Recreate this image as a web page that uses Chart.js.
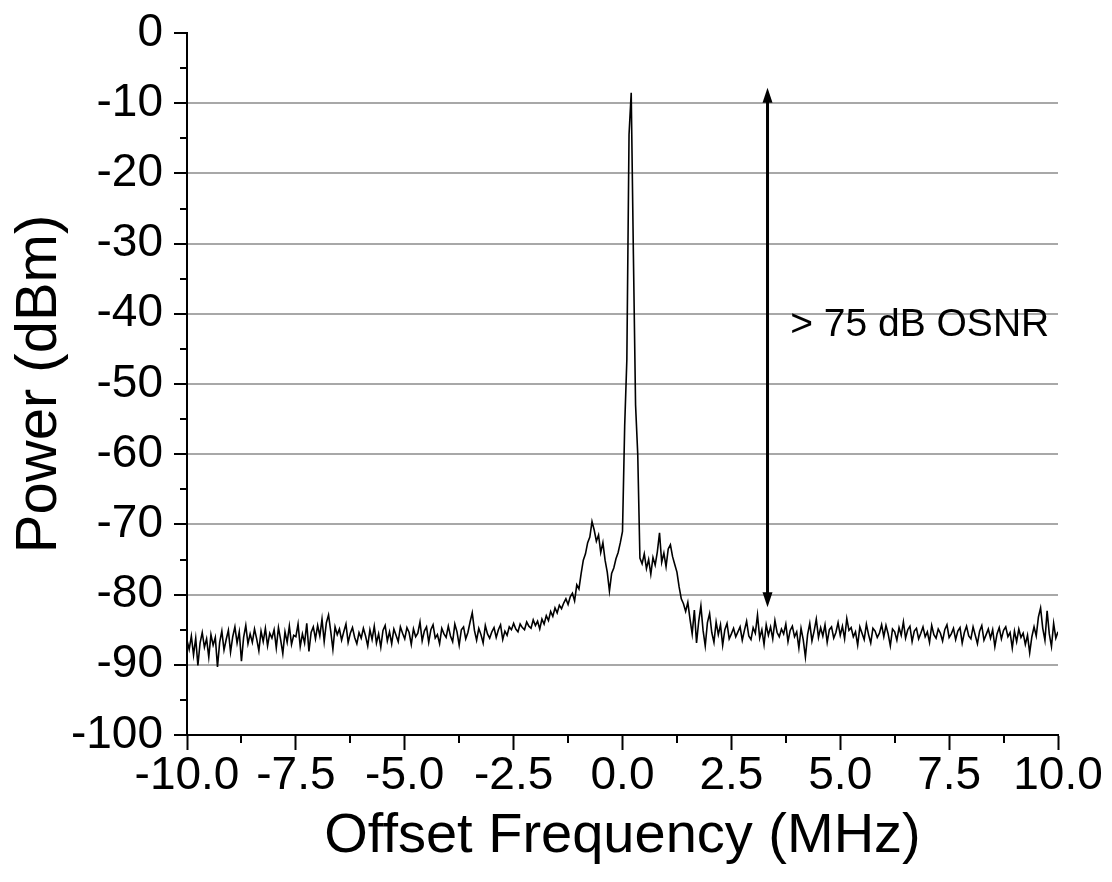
<!DOCTYPE html>
<html>
<head>
<meta charset="utf-8">
<script src="https://cdn.jsdelivr.net/npm/chart.js@4"></script>
<style>
  html, body { margin: 0; padding: 0; background: #ffffff; }
  #wrap { width: 1112px; height: 882px; }
</style>
</head>
<body>
<div id="wrap"><canvas id="c" width="1112" height="882"></canvas></div>
<script>
// ---- data ----
const freqStart = -10;      // MHz, first sample
const freqStep = 0.05;      // MHz between samples
const power = [
  // -10 .. -9.05
  -86.5,-87.8,-85.9,-88.6,-86.2,-90.1,-86.9,-85.4,-87.5,-86.3,-88.9,-85.7,-87.2,-86.1,-90.3,-86.8,-85.2,-87.9,-86.4,-85.1,
  // -9 .. -8.05
  -88.2,-86.0,-84.6,-86.9,-85.3,-89.5,-86.1,-84.4,-87.0,-85.6,-86.8,-84.9,-86.3,-88.0,-85.2,-86.7,-84.8,-87.3,-85.5,-86.2,
  // -8 .. -7.05
  -85.0,-87.6,-84.7,-86.4,-88.4,-85.3,-86.8,-84.5,-87.1,-85.8,-86.0,-84.2,-87.4,-85.6,-86.9,-84.1,-88.1,-85.4,-84.6,-86.3,
  // -7 .. -6.05
  -84.4,-85.9,-83.5,-86.7,-84.0,-82.9,-85.2,-87.8,-84.6,-85.7,-84.9,-86.5,-85.3,-84.2,-86.8,-85.5,-84.7,-86.1,-87.0,-85.4,
  // -6 .. -5.05
  -86.2,-84.8,-85.9,-87.3,-85.0,-86.4,-84.5,-86.9,-85.6,-87.5,-85.1,-84.4,-86.6,-85.3,-87.0,-84.9,-85.8,-86.7,-84.6,-85.5,
  // -5 .. -4.05
  -86.3,-84.7,-85.4,-87.1,-84.9,-86.0,-85.5,-83.9,-86.6,-85.2,-84.6,-86.8,-85.0,-84.3,-86.2,-85.7,-87.0,-84.8,-85.6,-86.1,
  // -4 .. -3.05
  -84.5,-85.9,-86.7,-84.2,-85.3,-87.2,-85.0,-84.6,-86.3,-85.4,-83.9,-82.6,-85.1,-86.5,-84.8,-85.7,-86.9,-84.4,-85.6,-86.2,
  // -3 .. -2.05
  -85.3,-84.7,-86.1,-85.0,-84.3,-86.4,-85.2,-85.8,-84.6,-85.0,-84.1,-84.9,-85.3,-84.2,-84.7,-85.0,-83.9,-84.5,-84.8,-83.6,
  // -2 .. -1.05
  -84.4,-83.8,-84.9,-83.5,-84.2,-83.0,-83.7,-82.4,-83.1,-81.9,-82.6,-81.5,-82.0,-81.2,-80.6,-81.4,-80.3,-79.8,-80.9,-78.6,
  // -1 .. -0.05
  -79.2,-77.0,-75.1,-74.2,-72.6,-71.8,-69.6,-70.8,-72.4,-71.5,-74.0,-72.6,-75.1,-76.8,-79.5,-77.0,-76.2,-74.9,-74.0,-72.6,
  // 0 .. 0.4 (carrier)
  -71.0,-56.0,-46.5,-14.5,-8.5,-31.5,-53.0,-60.0,-74.8,
  // 0.45 .. 1.2
  -75.6,-74.2,-76.3,-75.0,-77.1,-74.7,-75.8,-73.9,-71.2,-75.4,-74.1,-76.0,-73.5,-72.9,-74.6,-75.7,
  // 1.25 .. 2.0
  -76.8,-78.9,-80.6,-81.3,-82.4,-81.1,-83.5,-85.6,-82.2,-86.9,-83.8,-81.6,-85.1,-87.3,-84.0,-82.7,
  // 2.05 .. 2.95
  -85.4,-86.8,-83.9,-85.7,-84.3,-87.2,-85.0,-84.1,-86.3,-85.6,-84.8,-86.0,-85.3,-84.6,-86.5,-85.1,-83.8,-85.9,-86.4,
  // 3 .. 3.95
  -84.7,-85.5,-82.9,-86.2,-85.0,-87.1,-84.3,-85.8,-84.6,-86.3,-83.7,-85.4,-86.0,-84.9,-85.6,-84.2,-86.7,-85.1,-84.5,-86.0,
  // 4 .. 4.95
  -85.3,-87.6,-84.8,-86.4,-88.9,-85.7,-84.1,-86.6,-85.2,-83.5,-86.1,-84.7,-85.9,-84.3,-86.8,-85.0,-84.6,-86.2,-85.4,-84.0,
  // 5 .. 5.95
  -85.8,-84.5,-86.3,-83.4,-85.1,-84.7,-86.0,-85.3,-87.2,-84.6,-85.5,-86.4,-84.2,-85.7,-86.9,-84.8,-85.2,-86.1,-85.5,-84.3,
  // 6 .. 6.95
  -86.0,-84.4,-85.6,-87.3,-84.9,-85.3,-86.5,-84.7,-85.8,-83.9,-86.2,-85.0,-84.5,-86.7,-85.2,-84.8,-86.3,-85.5,-84.6,-86.0,
  // 7 .. 7.95
  -85.3,-86.8,-84.4,-85.7,-86.2,-84.9,-85.5,-86.6,-85.0,-84.3,-86.1,-85.6,-84.8,-86.4,-85.2,-84.7,-86.9,-85.4,-84.5,-85.9,
  // 8 .. 8.95
  -86.3,-84.6,-85.8,-87.0,-85.2,-84.4,-86.5,-85.7,-84.9,-86.2,-85.0,-87.4,-85.6,-84.7,-86.3,-85.1,-84.6,-86.0,-85.4,-87.6,
  // 9 .. 10
  -85.2,-86.7,-84.9,-86.1,-85.5,-87.1,-85.8,-88.3,-86.0,-84.6,-85.9,-83.2,-81.9,-84.8,-86.5,-82.3,-85.6,-87.4,-84.1,-86.2,-85.3
];
const freq = power.map((_, i) => +(freqStart + i * freqStep).toFixed(2));

const xTicks = [-10, -7.5, -5, -2.5, 0, 2.5, 5, 7.5, 10];
const yTicks = [0, -10, -20, -30, -40, -50, -60, -70, -80, -90, -100];
const xTitle = 'Offset Frequency (MHz)';
const yTitle = 'Power (dBm)';

// annotation: double arrow (x, yTop, yBottom) and label (x, y, text)
const arrowSpan = [3.33, -7.8, -81.8];
const noteAt = [3.85, -41.6];
const noteText = '> 75 dB OSNR';

// ---- rendering ----
const FONT = "'Liberation Sans', Arial, Helvetica, sans-serif";

const minorTicks = {
  id: 'minorTicks',
  afterDraw(chart) {
    const { ctx } = chart;
    const xs = chart.scales.x, ys = chart.scales.y;
    ctx.save();
    ctx.strokeStyle = '#000';
    ctx.lineWidth = 2;
    ctx.beginPath();
    for (let v = -95; v < 0; v += 10) {
      const py = Math.round(ys.getPixelForValue(v));
      ctx.moveTo(xs.left - 7, py);
      ctx.lineTo(xs.left, py);
    }
    for (let v = -8.75; v < 10; v += 2.5) {
      const px = Math.round(xs.getPixelForValue(v));
      ctx.moveTo(px, ys.bottom);
      ctx.lineTo(px, ys.bottom + 8);
    }
    ctx.stroke();
    ctx.restore();
  }
};

const annotate = {
  id: 'annotate',
  afterDatasetsDraw(chart) {
    const { ctx } = chart;
    const xs = chart.scales.x, ys = chart.scales.y;
    const ax = xs.getPixelForValue(arrowSpan[0]);
    const y1 = ys.getPixelForValue(arrowSpan[1]);
    const y2 = ys.getPixelForValue(arrowSpan[2]);
    const hl = 15, hw = 5;
    ctx.save();
    ctx.strokeStyle = '#000';
    ctx.fillStyle = '#000';
    ctx.lineWidth = 3;
    ctx.beginPath();
    ctx.moveTo(ax, y1 + hl - 2);
    ctx.lineTo(ax, y2 - hl + 2);
    ctx.stroke();
    ctx.beginPath();
    ctx.moveTo(ax, y1);
    ctx.lineTo(ax - hw, y1 + hl);
    ctx.lineTo(ax + hw, y1 + hl);
    ctx.closePath();
    ctx.fill();
    ctx.beginPath();
    ctx.moveTo(ax, y2);
    ctx.lineTo(ax - hw, y2 - hl);
    ctx.lineTo(ax + hw, y2 - hl);
    ctx.closePath();
    ctx.fill();
    ctx.font = '39px ' + FONT;
    ctx.textAlign = 'left';
    ctx.textBaseline = 'middle';
    ctx.fillText(noteText, xs.getPixelForValue(noteAt[0]), ys.getPixelForValue(noteAt[1]));
    ctx.restore();
  }
};

new Chart(document.getElementById('c'), {
  type: 'line',
  data: {
    datasets: [{
      data: freq.map((f, i) => ({ x: f, y: power[i] })),
      borderColor: '#000',
      borderWidth: 1.6,
      pointRadius: 0,
      tension: 0,
      fill: false
    }]
  },
  options: {
    responsive: false,
    animation: false,
    events: [],
    layout: { padding: { left: 0, right: 54, top: 33, bottom: 0 } },
    plugins: { legend: { display: false }, tooltip: { enabled: false } },
    scales: {
      x: {
        type: 'linear',
        min: -10, max: 10,
        afterBuildTicks: s => { s.ticks = xTicks.map(v => ({ value: v })); },
        afterFit: s => { s.height = 147; },
        ticks: {
          autoSkip: false, maxRotation: 0, minRotation: 0,
          padding: -1,
          color: '#000',
          font: { family: FONT, size: 46 },
          callback: v => v.toFixed(1)
        },
        grid: {
          drawOnChartArea: false,
          drawTicks: true,
          tickLength: 15,
          tickColor: '#000',
          tickWidth: 2
        },
        border: { display: true, color: '#000', width: 2 },
        title: {
          display: true, text: xTitle, color: '#000',
          font: { family: FONT, size: 56 },
          padding: { top: 0, bottom: 12 }
        }
      },
      y: {
        type: 'linear',
        min: -100, max: 0,
        afterBuildTicks: s => { s.ticks = yTicks.map(v => ({ value: v })); },
        afterFit: s => { s.width = 187; s.paddingTop = 0; s.paddingBottom = 0; },
        ticks: {
          padding: 11,
          color: '#000',
          font: { family: FONT, size: 46 },
          callback: v => String(v)
        },
        grid: {
          color: ctx => (ctx.tick && (ctx.tick.value === 0 || ctx.tick.value === -100)) ? 'rgba(0,0,0,0)' : '#a8a8a8',
          lineWidth: 2,
          drawTicks: true,
          tickLength: 13,
          tickColor: '#000',
          tickWidth: 2
        },
        border: { display: true, color: '#000', width: 2 },
        title: {
          display: true, text: yTitle, color: '#000',
          font: { family: FONT, size: 58 },
          padding: { top: 5, bottom: 0 }
        }
      }
    }
  },
  plugins: [minorTicks, annotate]
});
</script>
</body>
</html>
